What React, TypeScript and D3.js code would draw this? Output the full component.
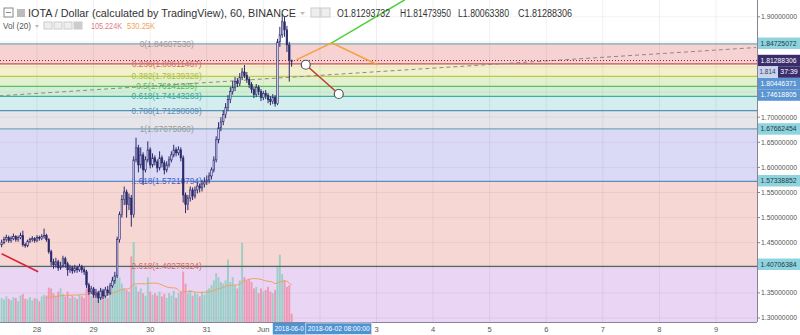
import React from "react";
import * as d3 from "d3";

// ---------- data ----------
const HOUR = 3600 * 1000;
const firstCandleTime = Date.UTC(2018, 4, 27, 9);
const firstOpen = 1.446;

const closes = [
  1.450, 1.456, 1.460, 1.454, 1.458, 1.462, 1.456, 1.460, 1.464, 1.446,
  1.444, 1.452, 1.456, 1.458, 1.454, 1.460, 1.458, 1.462, 1.464, 1.456,
  1.432, 1.412, 1.406, 1.412, 1.400, 1.404, 1.418, 1.408, 1.396, 1.400,
  1.394, 1.400, 1.396, 1.402, 1.396, 1.392, 1.366, 1.352, 1.358, 1.346,
  1.350, 1.340, 1.354, 1.344, 1.356, 1.350, 1.364, 1.374, 1.384, 1.456,
  1.506, 1.536, 1.551, 1.526, 1.539, 1.506, 1.615, 1.639, 1.605, 1.625,
  1.595, 1.615, 1.635, 1.605, 1.619, 1.611, 1.599, 1.619, 1.609, 1.595,
  1.605, 1.615, 1.625, 1.635, 1.629, 1.635, 1.619, 1.545, 1.526, 1.539,
  1.555, 1.543, 1.555, 1.563, 1.559, 1.567, 1.571, 1.575, 1.583, 1.595,
  1.615, 1.655, 1.679, 1.691, 1.705, 1.719, 1.735, 1.751, 1.759, 1.771,
  1.767, 1.779, 1.790, 1.783, 1.775, 1.765, 1.755, 1.745, 1.759, 1.751,
  1.739, 1.747, 1.743, 1.735, 1.731, 1.739, 1.727, 1.850, 1.864, 1.890,
  1.874, 1.844, 1.81294, 1.81288,
];
const highs = [
  1.456, 1.462, 1.466, 1.464, 1.463, 1.468, 1.465, 1.464, 1.470, 1.474,
  1.450, 1.456, 1.460, 1.463, 1.461, 1.465, 1.464, 1.467, 1.478, 1.468,
  1.459, 1.436, 1.418, 1.420, 1.416, 1.412, 1.424, 1.422, 1.412, 1.406,
  1.404, 1.406, 1.404, 1.408, 1.406, 1.402, 1.396, 1.370, 1.364, 1.362,
  1.358, 1.354, 1.360, 1.358, 1.362, 1.364, 1.370, 1.382, 1.392, 1.462,
  1.512, 1.545, 1.562, 1.556, 1.548, 1.545, 1.622, 1.659, 1.645, 1.640,
  1.630, 1.622, 1.652, 1.640, 1.628, 1.624, 1.616, 1.632, 1.624, 1.614,
  1.612, 1.622, 1.632, 1.645, 1.640, 1.642, 1.640, 1.624, 1.550, 1.545,
  1.562, 1.560, 1.562, 1.570, 1.568, 1.575, 1.580, 1.584, 1.590, 1.600,
  1.622, 1.662, 1.690, 1.700, 1.714, 1.728, 1.744, 1.760, 1.772, 1.780,
  1.778, 1.788, 1.798, 1.804, 1.790, 1.780, 1.770, 1.760, 1.766, 1.764,
  1.756, 1.752, 1.754, 1.748, 1.742, 1.746, 1.744, 1.856, 1.880, 1.906,
  1.900, 1.882, 1.850, 1.81474,
];
const lows = [
  1.441, 1.447, 1.452, 1.450, 1.450, 1.455, 1.452, 1.452, 1.457, 1.442,
  1.440, 1.441, 1.449, 1.452, 1.450, 1.451, 1.454, 1.455, 1.458, 1.452,
  1.428, 1.404, 1.398, 1.400, 1.394, 1.396, 1.400, 1.400, 1.384, 1.390,
  1.388, 1.390, 1.390, 1.392, 1.390, 1.386, 1.360, 1.346, 1.348, 1.340,
  1.340, 1.330, 1.336, 1.338, 1.340, 1.344, 1.346, 1.360, 1.368, 1.380,
  1.450, 1.500, 1.525, 1.500, 1.515, 1.482, 1.500, 1.610, 1.590, 1.598,
  1.565, 1.590, 1.610, 1.598, 1.600, 1.604, 1.590, 1.594, 1.600, 1.586,
  1.590, 1.600, 1.610, 1.620, 1.622, 1.624, 1.612, 1.530, 1.509, 1.515,
  1.532, 1.535, 1.538, 1.548, 1.550, 1.552, 1.560, 1.565, 1.568, 1.576,
  1.590, 1.610, 1.648, 1.672, 1.684, 1.698, 1.712, 1.728, 1.745, 1.752,
  1.760, 1.762, 1.774, 1.778, 1.768, 1.758, 1.748, 1.738, 1.740, 1.744,
  1.732, 1.734, 1.736, 1.728, 1.724, 1.726, 1.721, 1.724, 1.840, 1.858,
  1.860, 1.830, 1.771, 1.80063,
];
// volume in thousands
const volumes = [
  300, 280, 320, 290, 270, 310, 300, 260, 330, 350,
  290, 280, 310, 270, 300, 290, 260, 320, 340, 330,
  430, 420, 360, 330, 380, 420, 350, 320, 380, 300,
  330, 310, 290, 340, 320, 300, 420, 380, 330, 400,
  350, 390, 420, 330, 360, 300, 420, 560, 530, 600,
  560, 480, 420, 400, 380, 820, 1000, 450, 380, 420,
  360, 330, 560, 380, 340, 360, 330, 380, 320, 350,
  300, 360, 330, 390, 300, 360, 380, 630, 480, 360,
  400, 330, 370, 350, 320, 380, 340, 400, 420, 460,
  520, 610, 560, 500, 480, 520, 780, 500, 560, 460,
  420, 520, 990, 560, 520, 540, 500, 420, 440, 360,
  420, 380, 400, 440, 380, 360, 400, 700, 840, 600,
  520, 440, 460, 105.224,
];

const fibLevels = [0, 0.236, 0.382, 0.5, 0.618, 0.786, 1, 1.618, 2.618, 3.618];
const fibPrices = [1.8460753, 1.80611467, 1.78139326, 1.76141295, 1.74143263, 1.71298609, 1.6767506, 1.57210794, 1.40276324, 1.23345854];
const fibLabelTime = Date.UTC(2018, 4, 30, 7);

const dayTicks = d3.range(0, 13).map((d) => Date.UTC(2018, 4, 28 + d));
const priceTicks = d3.range(0, 13).map((k) => 1.3 + k * 0.05);

const tagPrices = [1.84725072, 1.81288306, 1.80446371, 1.74618805, 1.67662454, 1.57338852, 1.40706384];

const headerValues = ["O1.81293732", "H1.81473950", "L1.80063380", "C1.81288306"];

const redTrend = [
  { t: Date.UTC(2018, 4, 27, 9), p: 1.428 },
  { t: Date.UTC(2018, 4, 28, 0, 30), p: 1.392 },
];
const dashedTrend = [
  { t: Date.UTC(2018, 4, 27, 8), p: 1.7426 },
  { t: Date.UTC(2018, 5, 9, 17), p: 1.8388 },
];
const orangePath = [
  { t: Date.UTC(2018, 5, 1, 14), p: 1.8143 },
  { t: Date.UTC(2018, 5, 2, 5), p: 1.8482 },
  { t: Date.UTC(2018, 5, 3, 0, 30), p: 1.8044 },
];
const greenPath = [
  { t: Date.UTC(2018, 5, 2, 5), p: 1.8482 },
  { t: Date.UTC(2018, 5, 3, 12), p: 1.9339 },
];
const redSegment = [
  { t: Date.UTC(2018, 5, 1, 18), p: 1.80446371 },
  { t: Date.UTC(2018, 5, 2, 8), p: 1.74618805 },
];

// ---------- styles ----------
const bandColors = ["#f6d2d2", "#f2f0cd", "#e1f1cf", "#d3eed7", "#d4edee", "#e6e6ea", "#dadaf6", "#f6d7d3", "#ead6f4"];
const fibLineColors = ["#76a7b3", "#d05050", "#b9cc4a", "#5fbf5f", "#3fae9c", "#5790bd", "#76a7b3", "#5b8dc4", "#55685c"];
const fibTextColors = ["#9a9a9a", "#d46a6a", "#a9c040", "#5cb85c", "#3aaa9a", "#5a8fb8", "#9a9a9a", "#4060d0", "#d46a6a"];
const tagStyles = [
  { bg: "#8fd3de", fg: "#1d3b44" },
  { bg: "#3a2d6c", fg: "#ffffff" },
  { bg: "#5b95d2", fg: "#ffffff" },
  { bg: "#5b95d2", fg: "#ffffff" },
  { bg: "#8fd3de", fg: "#1d3b44" },
  { bg: "#8fd3de", fg: "#1d3b44" },
  { bg: "#8fd3de", fg: "#1d3b44" },
];
const headerX = [337, 400, 458, 518];
const headerLen = [53, 51, 51, 54];
const FONT = "'Liberation Sans', Arial, sans-serif";

export default function App() {
  const W = 800, H = 335, PR = 757, PB = 322;
  const x = d3.scaleUtc().domain([new Date(dayTicks[0]), new Date(dayTicks[12])]).range([37, 716]);
  const y = d3.scaleLinear().domain([1.3, 1.9]).range([318, 16.8]);
  const v = d3.scaleLinear().domain([0, 1000]).range([PB, 242]);

  const candles = closes.map((c, i) => ({
    t: new Date(firstCandleTime + i * HOUR),
    o: i === 0 ? firstOpen : closes[i - 1],
    h: highs[i],
    l: lows[i],
    c,
    vol: volumes[i],
  }));
  const step = x(new Date(firstCandleTime + HOUR)) - x(new Date(firstCandleTime));
  const ma = candles.map((_, i) => (i < 19 ? null : (d3.mean(volumes.slice(i - 19, i + 1)) as number)));

  const lineGen = d3.line<{ t: number; p: number }>().x((d) => x(new Date(d.t))).y((d) => y(d.p));
  const maLine = d3
    .line<number | null>()
    .defined((d) => d != null)
    .x((_, i) => x(candles[i].t))
    .y((d) => v(d as number));

  // right axis tags with overlap resolution
  const TAG_H = 11.5;
  const tags: { p: number; yc: number; bg: string; fg: string }[] = [];
  let lastBottom = -100;
  tagPrices.forEach((p, i) => {
    let top = y(p) - TAG_H / 2;
    if (top < lastBottom) top = lastBottom;
    tags.push({ p, yc: top + TAG_H / 2, ...tagStyles[i] });
    lastBottom = top + TAG_H;
    if (i === 1) lastBottom += TAG_H; // countdown row below last price
  });

  const labelX = x(new Date(fibLabelTime));
  const bands = fibPrices.slice(0, -1).map((p, i) => ({ y0: y(p), y1: y(fibPrices[i + 1]), color: bandColors[i] }));

  const TIP_W = 66;
  const tipBoxes = redSegment.map((d) => {
    const cx = x(new Date(d.t));
    return { x0: cx - TIP_W / 2, x1: cx + TIP_W / 2, cx, txt: d3.utcFormat("%Y-%m-%d %H:%M:%S")(new Date(d.t)) };
  });

  return (
    <svg width={W} height={H} style={{ position: "absolute", left: 0, top: 0, display: "block" }} fontFamily={FONT}>
      <defs>
        <clipPath id="plot">
          <rect x={0} y={0} width={PR} height={PB} />
        </clipPath>
      </defs>
      <rect x={0} y={0} width={W} height={H} fill="#ffffff" />
      <g clipPath="url(#plot)">
        {bands.map((b, i) => (
          <rect key={i} x={0} y={b.y0} width={PR} height={b.y1 - b.y0} fill={b.color} />
        ))}
        {/* grid */}
        {dayTicks.map((t, i) => (
          <line key={"vg" + i} x1={x(new Date(t))} x2={x(new Date(t))} y1={0} y2={PB} stroke="#000" strokeOpacity={0.06} />
        ))}
        {priceTicks.map((p, i) => (
          <line key={"hg" + i} x1={0} x2={PR} y1={y(p)} y2={y(p)} stroke="#000" strokeOpacity={0.05} />
        ))}
        {/* volume */}
        {candles.map((d, i) => (
          <rect
            key={"v" + i}
            x={x(d.t) - step * 0.4}
            y={v(d.vol)}
            width={step * 0.8}
            height={PB - v(d.vol)}
            fill={d.c >= d.o ? "#86cdbb" : "#ee8aa6"}
            fillOpacity={0.8}
          />
        ))}
        <path d={maLine(ma) || ""} fill="none" stroke="#f0a060" strokeWidth={1} />
        {/* fib lines and labels */}
        {fibPrices.slice(0, 9).map((p, i) => (
          <line key={"fl" + i} x1={0} x2={PR} y1={y(p)} y2={y(p)} stroke={fibLineColors[i]} strokeWidth={1.2} />
        ))}
        {fibPrices.slice(0, 9).map((p, i) => (
          <text key={"ft" + i} x={labelX} y={y(p)} dy="0.35em" textAnchor="middle" fontSize={8.3} fill={fibTextColors[i]}>
            {`${fibLevels[i]}(${p.toFixed(8)})`}
          </text>
        ))}
        {/* drawings behind candles */}
        <path d={lineGen(dashedTrend) || ""} fill="none" stroke="#8a8a8a" strokeWidth={1} strokeDasharray="4,3" />
        <path d={lineGen(redTrend) || ""} fill="none" stroke="#e0203c" strokeWidth={1.6} />
        {/* candles */}
        {candles.map((d, i) => {
          const up = d.c >= d.o;
          const top = y(Math.max(d.o, d.c));
          const bot = y(Math.min(d.o, d.c));
          const cx = x(d.t);
          return (
            <g key={"c" + i}>
              <line x1={cx} x2={cx} y1={y(d.h)} y2={y(d.l)} stroke="#2b2a6b" strokeWidth={1} />
              <rect
                x={cx - step * 0.33}
                y={top}
                width={step * 0.66}
                height={Math.max(1, bot - top)}
                fill={up ? "#d6d3f3" : "#2b2a6b"}
                stroke="#2b2a6b"
                strokeWidth={0.6}
              />
            </g>
          );
        })}
        {/* price line */}
        <line
          x1={0}
          x2={PR}
          y1={y(closes[closes.length - 1])}
          y2={y(closes[closes.length - 1])}
          stroke="#7a1f45"
          strokeWidth={1}
          strokeDasharray="1,2"
        />
        {/* other drawings */}
        <path d={lineGen(orangePath) || ""} fill="none" stroke="#f5a040" strokeWidth={1.5} />
        <path d={lineGen(greenPath) || ""} fill="none" stroke="#4fd13a" strokeWidth={1.5} />
        <path d={lineGen(redSegment) || ""} fill="none" stroke="#c0392b" strokeWidth={1.5} />
        {redSegment.map((d, i) => (
          <circle key={"rc" + i} cx={x(new Date(d.t))} cy={y(d.p)} r={4.5} fill="#ffffff" stroke="#555" strokeWidth={1.2} />
        ))}
      </g>

      {/* header */}
      <rect x={4} y={8} width={9} height={9} fill="#fff" stroke="#888" strokeWidth={1} />
      <line x1={6} x2={11} y1={12.5} y2={12.5} stroke="#888" />
      <rect x={17} y={9} width={8} height={8} fill="#bbb" />
      <text x={28} y={16.5} fontSize={11} fill="#333" textLength={268} lengthAdjust="spacingAndGlyphs">
        IOTA / Dollar (calculated by TradingView), 60, BINANCE
      </text>
      <path d="M300,12 L305,12 L302.5,15 Z" fill="#bbb" />
      <rect x={311} y={8} width={9} height={9} fill="#eee" stroke="#ccc" />
      <rect x={321} y={8} width={9} height={9} fill="#eee" stroke="#ccc" />
      {headerValues.map((t, i) => (
        <text key={t} x={headerX[i]} y={16.5} fontSize={10} fill="#333" textLength={headerLen[i]} lengthAdjust="spacingAndGlyphs">
          {t}
        </text>
      ))}
      <text x={3} y={29} fontSize={8.5} fill="#555" textLength={28} lengthAdjust="spacingAndGlyphs">
        Vol (20)
      </text>
      <path d="M35,25 L39,25 L37,28 Z" fill="#bbb" />
      {[44, 54, 64, 74].map((xx, i) => (
        <rect key={"ic" + i} x={xx} y={22} width={8} height={7} fill={i === 3 ? "#ccc" : "#eee"} stroke="#ccc" />
      ))}
      <text x={91} y={29} fontSize={8.5} fill="#e07a8a" textLength={31} lengthAdjust="spacingAndGlyphs">
        105.224K
      </text>
      <text x={127} y={29} fontSize={8.5} fill="#f0a55a" textLength={28} lengthAdjust="spacingAndGlyphs">
        530.25K
      </text>

      {/* right axis */}
      <rect x={PR} y={0} width={W - PR} height={H} fill="#ffffff" />
      <rect x={0} y={PB} width={W} height={H - PB} fill="#ffffff" />
      <line x1={PR + 0.5} x2={PR + 0.5} y1={0} y2={PB} stroke="#8a8296" />
      <line x1={0} x2={PR} y1={PB + 0.5} y2={PB + 0.5} stroke="#8a8296" />
      {priceTicks
        .filter((p) => tags.every((tg) => Math.abs(tg.yc - y(p)) > 9) && !(Math.abs(y(p) - 72) < 8))
        .map((p, i) => (
          <g key={"pt" + i}>
            <line x1={PR} x2={PR + 3} y1={y(p)} y2={y(p)} stroke="#8a8296" />
            <text x={761} y={y(p)} dy="0.35em" fontSize={7} fill="#555" textLength={36} lengthAdjust="spacingAndGlyphs">
              {p.toFixed(8)}
            </text>
          </g>
        ))}
      {tags.map((tg, i) => (
        <g key={"tag" + i}>
          <rect x={PR + 1} y={tg.yc - TAG_H / 2} width={W - PR - 1} height={TAG_H} fill={tg.bg} />
          <text x={760.5} y={tg.yc} dy="0.35em" fontSize={7} fill={tg.fg} textLength={36} lengthAdjust="spacingAndGlyphs">
            {tg.p.toFixed(8)}
          </text>
        </g>
      ))}
      {/* countdown row */}
      <rect x={PR + 1} y={tags[1].yc + TAG_H / 2} width={21} height={TAG_H} fill="#c9d5ec" />
      <text x={759.5} y={tags[1].yc + TAG_H} dy="0.35em" fontSize={7} fill="#3a3a5a" textLength={16} lengthAdjust="spacingAndGlyphs">
        1.814
      </text>
      <rect x={778} y={tags[1].yc + TAG_H / 2} width={22} height={TAG_H} fill="#3a2d6c" />
      <text x={789} y={tags[1].yc + TAG_H} dy="0.35em" fontSize={7} fill="#fff" textAnchor="middle">
        37:39
      </text>

      {/* time axis */}
      {dayTicks
        .filter((t) => {
          const xx = x(new Date(t));
          return !tipBoxes.some((b) => xx > b.x0 && xx < b.x1);
        })
        .map((t, i) => {
          const d = new Date(t);
          const label = d.getUTCDate() === 1 ? "Jun" : String(d.getUTCDate());
          return (
            <text key={"dt" + i} x={x(d)} y={331.5} fontSize={7.5} fill="#555" textAnchor="middle">
              {label}
            </text>
          );
        })}
      {/* first tooltip (partly hidden under second) */}
      <rect x={tipBoxes[0].x0} y={323} width={TIP_W} height={11.5} fill="#4f93d2" />
      <text x={tipBoxes[0].x0 + 2} y={329} dy="0.35em" fontSize={6.6} fill="#fff" textLength={29} lengthAdjust="spacingAndGlyphs">
        {tipBoxes[0].txt.slice(0, 9)}
      </text>
      <rect x={tipBoxes[1].x0} y={323} width={TIP_W} height={11.5} fill="#4f93d2" stroke="#ffffff" strokeWidth={0.6} />
      <text x={tipBoxes[1].cx} y={329} dy="0.35em" fontSize={6.6} fill="#fff" textAnchor="middle" textLength={62} lengthAdjust="spacingAndGlyphs">
        {tipBoxes[1].txt}
      </text>
    </svg>
  );
}
